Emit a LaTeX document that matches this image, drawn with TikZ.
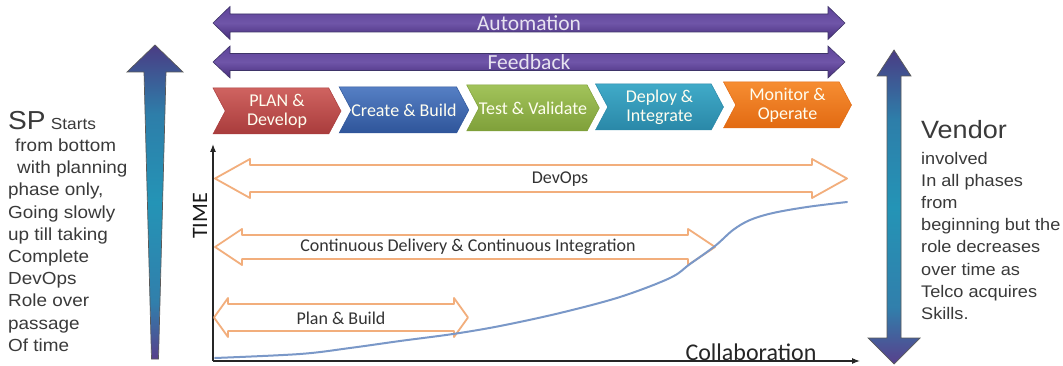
\documentclass[tikz,border=0pt]{standalone}
\usepackage{fontspec}
\setmainfont{Carlito}
\newfontfamily\sidefont[FakeStretch=1.08]{Liberation Sans}
\usetikzlibrary{arrows.meta,shapes.symbols}

\definecolor{purpA}{HTML}{5E439A}
\definecolor{purpB}{HTML}{6F55A8}
\definecolor{purpC}{HTML}{472D7B}
\definecolor{purpEdge}{HTML}{3E3468}
\definecolor{lineOrange}{HTML}{F2AE7C}
\definecolor{curveBlue}{HTML}{7A98C8}
\definecolor{sideGray}{HTML}{3A3A3A}
\definecolor{tealMid}{HTML}{2494B6}
\definecolor{barTop}{HTML}{4A3C84}
\definecolor{barBot}{HTML}{58408C}
\definecolor{redT}{HTML}{CF6360}\definecolor{redB}{HTML}{A93C3C}
\definecolor{bluT}{HTML}{557FC4}\definecolor{bluB}{HTML}{2F559A}
\definecolor{grnT}{HTML}{A2C35A}\definecolor{grnB}{HTML}{7FA03A}
\definecolor{tlT}{HTML}{40AAC8}\definecolor{tlB}{HTML}{2A88A8}
\definecolor{orT}{HTML}{F68D32}\definecolor{orB}{HTML}{E26A12}

% purple ends, teal body for the two side arrows
\pgfdeclareverticalshading{sidebar}{100bp}{%
  color(0bp)=(barBot); color(25bp)=(barBot); color(34bp)=(tealMid!75!barBot);
  color(50bp)=(tealMid); color(64bp)=(tealMid!75!barTop);
  color(75bp)=(barTop); color(100bp)=(barTop)}

% block double arrow: {x0}{x1}{yc}{body half}{head half}{head length}
\newcommand\blockarrow[7][]{%
  \path[#1] (#2,#4) -- (#2+#7,#4-#6) -- (#2+#7,#4-#5) -- (#3-#7,#4-#5)
    -- (#3-#7,#4-#6) -- (#3,#4) -- (#3-#7,#4+#6) -- (#3-#7,#4+#5)
    -- (#2+#7,#4+#5) -- (#2+#7,#4+#6) -- cycle;}

\tikzset{
  purplebar/.style={draw=purpEdge, line width=0.6pt, top color=purpA, bottom color=purpC, middle color=purpB},
  spanarrow/.style={draw=lineOrange, line width=1.8pt, fill=white, line join=round},
  bartext/.style={inner sep=0, text=white!85!purpA, font=\fontsize{21.5}{23}\selectfont},
  spantext/.style={inner sep=0, text=black!80, font=\fontsize{18}{20}\selectfont},
  phase/.style={signal, signal from=west, signal to=east, signal pointer angle=124,
    minimum width=128pt, minimum height=46pt, inner sep=0, align=center,
    text=white!94!yellow, font=\fontsize{18}{19}\selectfont, line width=0.5pt},
  sidetext/.style={inner sep=0, align=left, text=sideGray,
    font=\sidefont\fontsize{17.5}{22.2}\selectfont},
  uparrow/.style={draw=black!65, line width=0.7pt, shading=sidebar},
  axis/.style={draw=black!85, line width=1.1pt, -{Latex[length=8pt,width=6pt]}}
}

\begin{document}
\begin{tikzpicture}[x=1pt,y=-1pt]
\useasboundingbox (0,0) rectangle (1063,366);
\fill[white] (0,0) rectangle (1063,366);

% top process bars
\blockarrow[purplebar]{213}{845}{23}{9}{16.5}{17}
\node[bartext] (automation) at (529,23) {Automation};
\blockarrow[purplebar]{213}{845}{62}{8.5}{16}{17}
\node[bartext] (feedback) at (529,62) {Feedback};

% phase chevrons
\node[phase, draw=redB, top color=redT, bottom color=redB] (plan) at (277,111) {PLAN \&\\Develop};
\node[phase, draw=bluB, top color=bluT, bottom color=bluB] (create) at (404,110) {Create \& Build};
\node[phase, draw=grnB, top color=grnT, bottom color=grnB] (test) at (533,108) {Test \& Validate};
\node[phase, draw=tlB, top color=tlT, bottom color=tlB] (deploy) at (659.5,107) {Deploy \&\\Integrate};
\node[phase, draw=orB, top color=orT, bottom color=orB] (monitor) at (787.5,105) {Monitor \&\\Operate};

% axes
\coordinate (origin) at (213,361);
\coordinate (ytip) at (213,144);
\coordinate (xtip) at (860,361);
\draw[axis] (origin) -- (ytip);
\draw[axis] (origin) -- (xtip);
\node[rotate=90, inner sep=0, font=\fontsize{22}{22}\selectfont, text=black!90] (time) at (200,216) {TIME};
\node[inner sep=0, font=\fontsize{24}{24}\selectfont, text=black!85] (collab) at (751,352) {Collaboration};

% practice spans
\blockarrow[spanarrow]{215}{847}{178.5}{13.5}{19.5}{35}
\node[spantext] (devops) at (560,179) {DevOps};
\blockarrow[spanarrow]{215}{715}{247}{12}{18}{27}
\node[spantext] (cdci) at (468,247) {Continuous Delivery \& Continuous Integration};
\blockarrow[spanarrow]{214}{468}{317.5}{13.5}{19.5}{14}
\node[spantext] (planbuild) at (341,318) {Plan \& Build};

% collaboration growth curve
\draw[curveBlue, line width=2pt, line cap=round]
  plot[smooth, tension=0.55] coordinates {(215,358) (300,354) (350,348) (400,341) (453,334)
  (500,326) (560,313) (620,297) (670,278) (690,264) (715,246) (733,230) (750,220)
  (773,213) (807,207) (847,202)};

% service provider arrow (tapered)
\path[uparrow]
  (155,45) -- (183,72) -- (166,72) -- (158.5,359) -- (151.5,359) -- (144,72) -- (127,72) -- cycle;
\node[sidetext, anchor=north west] (sp) at (8,111)
  {{\fontsize{26}{26}\selectfont SP} {\fontsize{16}{16}\selectfont Starts}\\
   \hspace*{7pt}from bottom\\
   \hspace*{9pt}with planning\\
   phase only,\\
   Going slowly\\
   up till taking\\
   Complete\\
   DevOps\\
   Role over\\
   passage\\
   Of time};

% vendor arrow (double headed)
\path[uparrow]
  (894,50) -- (911,76) -- (901,76) -- (901,338) -- (920,338) -- (894,364)
  -- (868,338) -- (887,338) -- (887,76) -- (877,76) -- cycle;
\node[sidetext, anchor=north west, font=\sidefont\fontsize{16.8}{22.2}\selectfont] (vendor) at (921,120)
  {{\fontsize{25}{25}\selectfont Vendor}\\[3.5pt]
   involved\\
   In all phases\\
   from\\
   beginning but the\\
   role decreases\\
   over time as\\
   Telco acquires\\
   Skills.};
\end{tikzpicture}
\end{document}
